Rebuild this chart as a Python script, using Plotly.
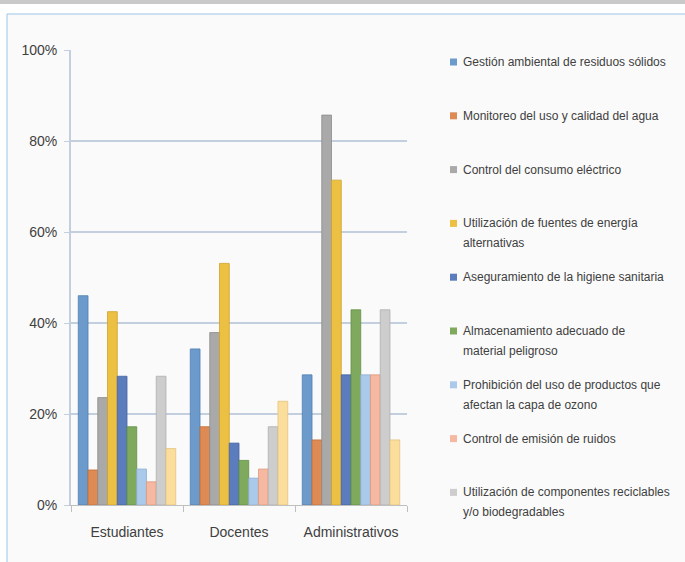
import plotly.graph_objects as go

categories = ["Estudiantes", "Docentes", "Administrativos"]

series_names = [
    "Gestión ambiental de residuos sólidos",
    "Monitoreo del uso y calidad del agua",
    "Control del consumo eléctrico",
    "Utilización de fuentes de energía<br>alternativas",
    "Aseguramiento de la higiene sanitaria",
    "Almacenamiento adecuado de<br>material peligroso",
    "Prohibición del uso de productos que<br>afectan la capa de ozono",
    "Control de emisión de ruidos",
    "Utilización de componentes reciclables<br>y/o biodegradables",
    "Otros",
]

gestion_residuos = [0.460, 0.343, 0.286]
monitoreo_agua = [0.077, 0.172, 0.143]
consumo_electrico = [0.236, 0.379, 0.857]
energia_alternativa = [0.425, 0.531, 0.714]
higiene_sanitaria = [0.283, 0.136, 0.286]
material_peligroso = [0.172, 0.098, 0.429]
capa_ozono = [0.079, 0.059, 0.286]
emision_ruidos = [0.051, 0.079, 0.286]
reciclables = [0.283, 0.172, 0.429]
otros = [0.124, 0.228, 0.143]

series_values = [
    gestion_residuos, monitoreo_agua, consumo_electrico, energia_alternativa,
    higiene_sanitaria, material_peligroso, capa_ozono, emision_ruidos,
    reciclables, otros,
]

colors = ["#6C9BCB", "#DE8A55", "#A9A9A9", "#EBC043", "#5B7DBE",
          "#7FAA5E", "#ABC9EA", "#F6B8A0", "#CDCDCD", "#FCDE9C"]
edges = ["#4F7FB0", "#C06E3A", "#8C8C8C", "#CFA22A", "#44629F",
         "#628F45", "#8EAED2", "#DC9A80", "#AFAFAF", "#E2C27E"]

font_family = "Liberation Sans, Arial"

fig = go.Figure()
for i, (name, vals) in enumerate(zip(series_names, series_values)):
    fig.add_trace(go.Bar(
        x=categories,
        y=vals,
        name=name.replace("<br>", " "),
        marker=dict(color=colors[i], line=dict(color=edges[i], width=0.8)),
    ))

W, H = 685, 562
# plot area in pixels
L, R, T, B = 71, 407, 50, 505


def px_x(p):
    return (p - L) / (R - L)


def px_y(p):
    return (B - p) / (B - T)


# background frame and top strip
fig.add_shape(type="rect", xref="paper", yref="paper", layer="below",
              x0=px_x(7), x1=px_x(700), y0=px_y(14), y1=px_y(580),
              fillcolor="#FAFAFA", line=dict(color="#9DC3E6", width=1))
fig.add_shape(type="rect", xref="paper", yref="paper", layer="below",
              x0=px_x(-10), x1=px_x(700), y0=px_y(-10), y1=px_y(4),
              fillcolor="#C9C9C9", line=dict(width=0))

# legend drawn by hand (first 9 series), Excel-like spacing
for i, name in enumerate(series_names[:9]):
    yc = 62 + 53.8 * i
    fig.add_shape(type="rect", xref="paper", yref="paper",
                  x0=px_x(450), x1=px_x(457), y0=px_y(yc + 3.5), y1=px_y(yc - 3.5),
                  fillcolor=colors[i], line=dict(width=0))
    for j, line in enumerate(name.split("<br>")):
        fig.add_annotation(
            x=px_x(461), y=px_y(yc + 20 * j), xref="paper", yref="paper",
            xanchor="left", yanchor="middle", showarrow=False,
            text=line, font=dict(size=12, color="#404040", family=font_family),
        )

fig.update_layout(
    width=W,
    height=H,
    margin=dict(l=L, r=W - R, t=T, b=H - B),
    paper_bgcolor="#FFFFFF",
    plot_bgcolor="rgba(0,0,0,0)",
    barmode="group",
    bargap=0.13,
    bargroupgap=0,
    font=dict(family=font_family, size=14, color="#404040"),
    showlegend=False,
)

fig.update_yaxes(
    range=[0, 1.0],
    tickvals=[0, 0.2, 0.4, 0.6, 0.8, 1.0],
    tickformat=".0%",
    showgrid=True,
    gridcolor="#C3CFDE",
    gridwidth=2,
    showline=True,
    linecolor="#C3CFDE",
    linewidth=2,
    ticks="outside",
    ticklen=5,
    tickcolor="#C3CFDE",
    ticklabelstandoff=4,
    zeroline=False,
)
fig.update_xaxes(
    showline=True,
    linecolor="#BFBFBF",
    linewidth=1,
    ticks="outside",
    tickson="boundaries",
    ticklen=6,
    tickcolor="#BFBFBF",
    ticklabelstandoff=14,
)

# the page body has an 8px margin by default; drop it so the figure sits at 0,0
fig.write_html(
    "out.html",
    config={"displayModeBar": False},
    post_script="document.body.style.margin='0px';",
)
